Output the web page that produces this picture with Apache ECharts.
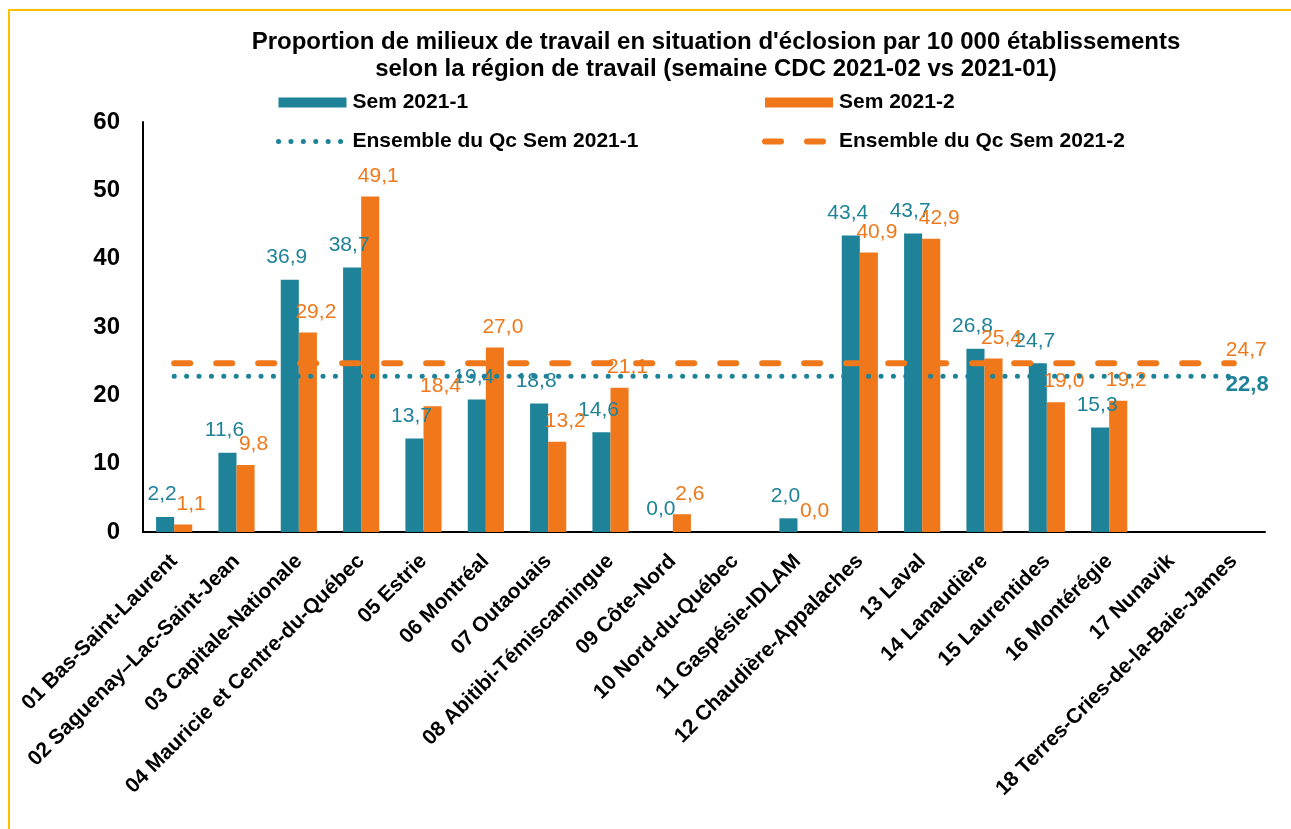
<!DOCTYPE html>
<html>
<head>
<meta charset="utf-8">
<script src="https://cdn.jsdelivr.net/npm/echarts@6/dist/echarts.min.js"></script>
<style>
  html, body { margin: 0; padding: 0; background: #fff; }
  #chart { width: 1291px; height: 829px; }
</style>
</head>
<body>
<div id="chart"></div>
<script>
const categories = [
  "01 Bas-Saint-Laurent",
  "02 Saguenay\u2013Lac-Saint-Jean",
  "03 Capitale-Nationale",
  "04 Mauricie et Centre-du-Québec",
  "05 Estrie",
  "06 Montréal",
  "07 Outaouais",
  "08 Abitibi-Témiscamingue",
  "09 Côte-Nord",
  "10 Nord-du-Québec",
  "11 Gaspésie-IDLAM",
  "12 Chaudière-Appalaches",
  "13 Laval",
  "14 Lanaudière",
  "15 Laurentides",
  "16 Montérégie",
  "17 Nunavik",
  "18 Terres-Cries-de-la-Baie-James"
];
const sem1 = [2.2, 11.6, 36.9, 38.7, 13.7, 19.4, 18.8, 14.6, 0.0, null, 2.0, 43.4, 43.7, 26.8, 24.7, 15.3, null, null];
const sem2 = [1.1, 9.8, 29.2, 49.1, 18.4, 27.0, 13.2, 21.1, 2.6, null, 0.0, 40.9, 42.9, 25.4, 19.0, 19.2, null, null];
const ensembleSem1 = 22.8;
const ensembleSem2 = 24.7;
const yTicks = [0, 10, 20, 30, 40, 50, 60];
const seriesNames = ["Sem 2021-1", "Sem 2021-2", "Ensemble du Qc Sem 2021-1", "Ensemble du Qc Sem 2021-2"];

const TEAL = "#1E8299";
const ORANGE = "#F0781B";
const FONT = "'Liberation Sans', Arial, Helvetica, sans-serif";
const fmt = v => (v == null ? "" : Number(v).toFixed(1).replace(".", ","));

const DOT_STYLE = { color: TEAL, width: 5, type: [0.1, 12.3], cap: "round" };
const DASH_STYLE = { color: ORANGE, width: 6, type: [16, 26], cap: "round" };

const legendText = { fontFamily: FONT, fontWeight: "bold", fontSize: 21, color: "#000", padding: [0, 0, 0, 1] };

const chart = echarts.init(document.getElementById("chart"), null, { renderer: "canvas" });
chart.setOption({
  animation: false,
  backgroundColor: "#ffffff",
  textStyle: { fontFamily: FONT },
  graphic: [{
    type: "rect",
    shape: { x: 9, y: 10, width: 3000, height: 3000 },
    style: { fill: null, stroke: "#FFC000", lineWidth: 2 },
    silent: true
  }],
  title: {
    text: "Proportion de milieux de travail en situation d'éclosion par 10 000 établissements\nselon la région de travail (semaine CDC 2021-02 vs 2021-01)",
    left: 716,
    top: 29,
    textAlign: "center",
    padding: 0,
    textStyle: { fontFamily: FONT, fontWeight: "bold", fontSize: 24, lineHeight: 27, color: "#000" }
  },
  legend: [
    {
      data: [
        { name: seriesNames[0], icon: "rect", itemStyle: { borderWidth: 0 } },
        { name: seriesNames[2], itemStyle: { opacity: 0 }, lineStyle: DOT_STYLE }
      ],
      orient: "vertical",
      left: 276, top: 92, padding: 0,
      itemWidth: 68, itemHeight: 10, itemGap: 18,
      textStyle: legendText
    },
    {
      data: [
        { name: seriesNames[1], icon: "rect", itemStyle: { borderWidth: 0 } },
        { name: seriesNames[3], itemStyle: { opacity: 0 }, lineStyle: DASH_STYLE }
      ],
      orient: "vertical",
      left: 762, top: 92, padding: 0,
      itemWidth: 68, itemHeight: 10, itemGap: 18,
      textStyle: legendText
    }
  ],
  grid: { left: 143, right: 26, top: 122, bottom: 297, containLabel: false },
  xAxis: {
    type: "category",
    data: categories,
    axisLine: { show: true, lineStyle: { color: "#000", width: 2 } },
    axisTick: { show: false },
    axisLabel: {
      interval: 0, rotate: 45, margin: 26,
      fontFamily: FONT, fontWeight: "bold", fontSize: 21, color: "#000"
    }
  },
  yAxis: {
    type: "value",
    min: yTicks[0], max: yTicks[yTicks.length - 1], interval: 10,
    axisLine: { show: true, lineStyle: { color: "#000", width: 2 } },
    axisTick: { show: false },
    splitLine: { show: false },
    axisLabel: { margin: 23, fontFamily: FONT, fontWeight: "bold", fontSize: 24, color: "#000" }
  },
  series: [
    {
      name: seriesNames[0], type: "bar", data: sem1,
      barGap: "0%", barCategoryGap: "42%",
      itemStyle: { color: TEAL, borderWidth: 0 },
      label: {
        show: true, position: "top", distance: 12, offset: [-3, 0],
        fontFamily: FONT, fontSize: 21, color: TEAL,
        formatter: p => fmt(p.value)
      },
      z: 2
    },
    {
      name: seriesNames[1], type: "bar", data: sem2,
      itemStyle: { color: ORANGE, borderWidth: 0 },
      label: {
        show: true, position: "top", distance: 10, offset: [8, 0],
        fontFamily: FONT, fontSize: 21, color: ORANGE,
        formatter: p => fmt(p.value)
      },
      z: 2
    },
    {
      name: seriesNames[2], type: "line",
      data: categories.map(() => ensembleSem1),
      symbol: "none", showSymbol: false,
      lineStyle: DOT_STYLE,
      itemStyle: { color: TEAL },
      endLabel: {
        show: true, distance: 0, offset: [-8, 9],
        fontFamily: FONT, fontWeight: "bold", fontSize: 22, color: TEAL,
        formatter: () => fmt(ensembleSem1)
      },
      z: 3
    },
    {
      name: seriesNames[3], type: "line",
      data: categories.map(() => ensembleSem2),
      symbol: "none", showSymbol: false,
      lineStyle: DASH_STYLE,
      itemStyle: { color: ORANGE },
      endLabel: {
        show: true, distance: 0, offset: [-8, -13],
        fontFamily: FONT, fontSize: 21, color: ORANGE,
        formatter: () => fmt(ensembleSem2)
      },
      z: 3
    }
  ]
});
</script>
</body>
</html>
